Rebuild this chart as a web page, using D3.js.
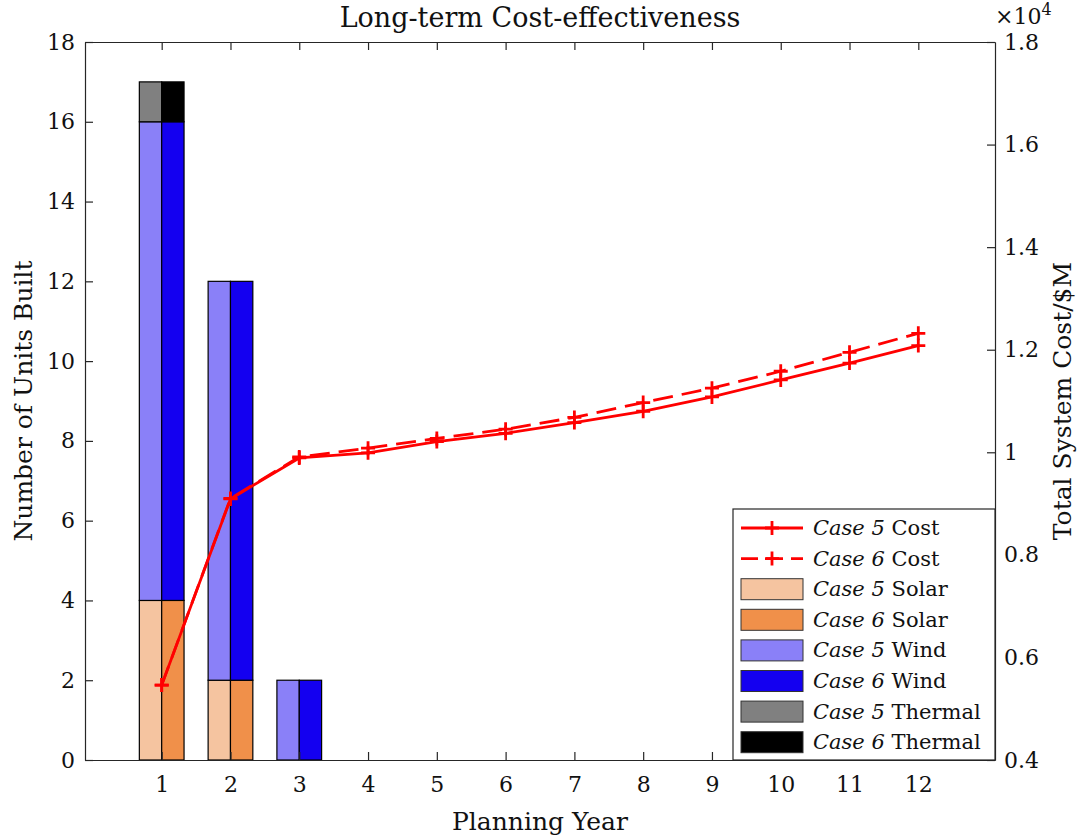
<!DOCTYPE html>
<html>
<head>
<meta charset="utf-8">
<script src="https://cdn.jsdelivr.net/npm/d3@7"></script>
<style>
    body { margin: 0; background: #fff; }
    svg { display: block; font-family: 'DejaVu Serif', serif; }
</style>
</head>
<body>
<div id="chart"></div>
<script>
// Dati
const years = [1, 2, 3, 4, 5, 6, 7, 8, 9, 10, 11, 12];
const case5Solar = [4, 2, 0, 0, 0, 0, 0, 0, 0, 0, 0, 0];
const case5Wind = [12, 10, 2, 0, 0, 0, 0, 0, 0, 0, 0, 0];
const case5Thermal = [1, 0, 0, 0, 0, 0, 0, 0, 0, 0, 0, 0];
const case6Solar = [4, 2, 0, 0, 0, 0, 0, 0, 0, 0, 0, 0];
const case6Wind = [12, 10, 2, 0, 0, 0, 0, 0, 0, 0, 0, 0];
const case6Thermal = [1, 0, 0, 0, 0, 0, 0, 0, 0, 0, 0, 0];
const case5Cost = [5460, 9090, 9890, 9990, 10210, 10370, 10580, 10800, 11080, 11410, 11740, 12080];
const case6Cost = [5460, 9100, 9910, 10080, 10270, 10450, 10680, 10970, 11250, 11580, 11950, 12320];
const leftTicks = [0, 2, 4, 6, 8, 10, 12, 14, 16, 18];
const rightTicks = [4000, 6000, 8000, 10000, 12000, 14000, 16000, 18000];

const object = {
    drawChart: function (selector) {
        const width = 1080;
        const height = 836;
        const margin = { top: 42, right: 85, bottom: 76, left: 85 };
        const axisColor = '#262626';

        const chart = d3.select(selector)
            .append('svg')
            .attr('width', width)
            .attr('height', height);

        // Scales
        const x = d3.scaleLinear()
            .domain([-0.115, 13.115])
            .range([margin.left, width - margin.right]);
        const y = d3.scaleLinear()
            .domain([0, 18])
            .range([height - margin.bottom, margin.top]);
        const yRight = d3.scaleLinear()
            .domain([4000, 18000])
            .range([height - margin.bottom, margin.top]);

        const barW = x(0.325) - x(0);

        // Stacked bars, one group per case
        const groups = [
            { offset: -1, layers: [[case5Solar, '#f5c4a0'], [case5Wind, '#8a80f8'], [case5Thermal, '#808080']] },
            { offset: 0, layers: [[case6Solar, '#f0904a'], [case6Wind, '#1400f0'], [case6Thermal, '#000000']] }
        ];

        const bars = chart.append('g').attr('class', 'bars');
        groups.forEach(g => {
            const base = years.map(() => 0);
            g.layers.forEach(([values, color]) => {
                bars.selectAll(null)
                    .data(years)
                    .join('rect')
                    .attr('x', d => x(d) + g.offset * barW)
                    .attr('y', (d, i) => y(base[i] + values[i]))
                    .attr('width', barW)
                    .attr('height', (d, i) => y(base[i]) - y(base[i] + values[i]))
                    .attr('fill', color)
                    .attr('stroke', '#000')
                    .attr('stroke-width', 1.2);
                values.forEach((v, i) => { base[i] += v; });
            });
        });

        // Axes (ticks inside, box on)
        const bottom = chart.append('g')
            .attr('transform', `translate(0,${height - margin.bottom})`)
            .call(d3.axisBottom(x).tickValues(years).tickSizeInner(-8).tickSizeOuter(0).tickPadding(16));
        const top = chart.append('g')
            .attr('transform', `translate(0,${margin.top})`)
            .call(d3.axisTop(x).tickValues(years).tickSizeInner(-8).tickSizeOuter(0).tickFormat(''));
        const left = chart.append('g')
            .attr('transform', `translate(${margin.left},0)`)
            .call(d3.axisLeft(y).tickValues(leftTicks).tickSizeInner(-8).tickSizeOuter(0).tickPadding(10));
        const right = chart.append('g')
            .attr('transform', `translate(${width - margin.right},0)`)
            .call(d3.axisRight(yRight).tickValues(rightTicks).tickSizeInner(-8).tickSizeOuter(0).tickPadding(9)
                .tickFormat(d => d3.format('.1f')(d / 10000).replace(/\.0$/, '')));

        [bottom, top, left, right].forEach(a => {
            a.select('.domain').attr('stroke', axisColor).attr('stroke-width', 1.2);
            a.selectAll('.tick line').attr('stroke', axisColor).attr('stroke-width', 1.2);
            a.selectAll('.tick text')
                .attr('fill', '#111')
                .attr('font-family', "'DejaVu Serif', serif")
                .attr('font-size', 22);
        });

        // Cost lines on right axis
        const line = d3.line()
            .x((d, i) => x(years[i]))
            .y(d => yRight(d));

        const costSeries = [
            { values: case5Cost, dash: null },
            { values: case6Cost, dash: '20,9' }
        ];
        costSeries.forEach(s => {
            chart.append('path')
                .datum(s.values)
                .attr('d', line)
                .attr('fill', 'none')
                .attr('stroke', '#ff0000')
                .attr('stroke-width', 2.8)
                .attr('stroke-dasharray', s.dash);
            chart.append('g').selectAll('path')
                .data(s.values)
                .join('path')
                .attr('d', (d, i) => {
                    const cx = x(years[i]), cy = yRight(d), r = 7;
                    return `M${cx - r},${cy}H${cx + r}M${cx},${cy - r}V${cy + r}`;
                })
                .attr('stroke', '#ff0000')
                .attr('stroke-width', 2.8);
        });

        // Title and labels
        chart.append('text')
            .attr('x', (margin.left + width - margin.right) / 2)
            .attr('y', 27)
            .attr('text-anchor', 'middle')
            .attr('font-size', 27)
            .attr('fill', '#111')
            .text('Long-term Cost-effectiveness');

        chart.append('text')
            .attr('x', (margin.left + width - margin.right) / 2)
            .attr('y', 830)
            .attr('text-anchor', 'middle')
            .attr('font-size', 25)
            .attr('fill', '#111')
            .text('Planning Year');

        chart.append('text')
            .attr('transform', `translate(32,${(margin.top + height - margin.bottom) / 2}) rotate(-90)`)
            .attr('text-anchor', 'middle')
            .attr('font-size', 25)
            .attr('fill', '#111')
            .text('Number of Units Built');

        chart.append('text')
            .attr('transform', `translate(1071,${(margin.top + height - margin.bottom) / 2}) rotate(-90)`)
            .attr('text-anchor', 'middle')
            .attr('font-size', 25)
            .attr('fill', '#111')
            .text('Total System Cost/$M');

        // ×10^4 exponent
        const expo = chart.append('text')
            .attr('x', 995)
            .attr('y', 24)
            .attr('font-size', 22)
            .attr('fill', '#111');
        expo.append('tspan').text('×10');
        expo.append('tspan').attr('dy', -9).attr('font-size', 16).text('4');

        // Legend
        const legendItems = [
            { c: '5', t: 'Cost', type: 'line', dash: null },
            { c: '6', t: 'Cost', type: 'line', dash: '17,8' },
            { c: '5', t: 'Solar', type: 'box', color: '#f5c4a0' },
            { c: '6', t: 'Solar', type: 'box', color: '#f0904a' },
            { c: '5', t: 'Wind', type: 'box', color: '#8a80f8' },
            { c: '6', t: 'Wind', type: 'box', color: '#1400f0' },
            { c: '5', t: 'Thermal', type: 'box', color: '#808080' },
            { c: '6', t: 'Thermal', type: 'box', color: '#000000' }
        ];
        const legend = chart.append('g').attr('transform', 'translate(733,509)');
        legend.append('rect')
            .attr('width', 262)
            .attr('height', 251)
            .attr('fill', '#fff')
            .attr('stroke', axisColor)
            .attr('stroke-width', 1.2);

        const rows = legend.selectAll('g.row')
            .data(legendItems)
            .join('g')
            .attr('class', 'row')
            .attr('transform', (d, i) => `translate(0,${19 + i * 30.6})`);

        rows.filter(d => d.type === 'line').each(function (d) {
            const g = d3.select(this);
            g.append('line')
                .attr('x1', 8).attr('x2', 70)
                .attr('stroke', '#ff0000').attr('stroke-width', 2.8)
                .attr('stroke-dasharray', d.dash);
            g.append('path')
                .attr('d', 'M32,0H46M39,-7V7')
                .attr('stroke', '#ff0000').attr('stroke-width', 2.8);
        });
        rows.filter(d => d.type === 'box').append('rect')
            .attr('x', 8).attr('y', -10.5)
            .attr('width', 62).attr('height', 21)
            .attr('fill', d => d.color)
            .attr('stroke', '#333').attr('stroke-width', 1);

        const labels = rows.append('text')
            .attr('x', 80)
            .attr('y', 7)
            .attr('font-size', 21)
            .attr('fill', '#111');
        labels.append('tspan').attr('font-style', 'italic').text(d => `Case ${d.c}`);
        labels.append('tspan').text(d => ` ${d.t}`);
    }
};

object.drawChart('#chart');
</script>
</body>
</html>
